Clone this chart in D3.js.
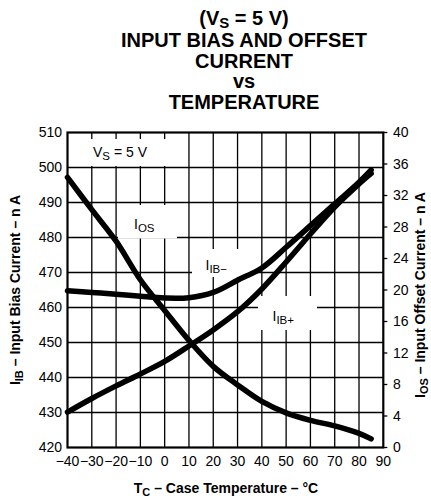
<!DOCTYPE html>
<html>
<head>
<meta charset="utf-8">
<script src="https://cdn.jsdelivr.net/npm/d3@7/dist/d3.min.js"></script>
<style>
  html, body { margin: 0; padding: 0; background: #fff; }
  svg { display: block; font-family: "Liberation Sans", Arial, Helvetica, sans-serif; }
</style>
</head>
<body>
<svg id="chart" width="431" height="500"></svg>
<script>
// ---- data ----
const temps = [-40, -30, -20, -10, 0, 10, 20, 30, 40, 50, 60, 70, 80, 85];
const iibPlus = [430.1, 434.0, 437.6, 441.0, 444.6, 449.0, 453.6, 458.8, 465.3, 473.0, 481.0, 488.7, 495.3, 498.3];
const iibMinus = [464.8, 464.3, 463.8, 463.2, 462.7, 462.8, 464.3, 467.8, 471.3, 477.2, 483.4, 489.6, 495.8, 499.3];
const ios = [34.3, 30.2, 26.2, 21.3, 17.4, 13.6, 10.3, 7.95, 5.85, 4.4, 3.45, 2.75, 1.8, 1.1];
const xTicks = [-40, -30, -20, -10, 0, 10, 20, 30, 40, 50, 60, 70, 80, 90];
const yLeftTicks = [420, 430, 440, 450, 460, 470, 480, 490, 500, 510];
const yRightTicks = [0, 4, 8, 12, 16, 20, 24, 28, 32, 36, 40];

// ---- layout ----
const L = 67.5, R = 383.3, T = 132.5, B = 447.5;
const svg = d3.select("#chart");
const x = d3.scaleLinear().domain([-40, 90]).range([L, R]);
const yL = d3.scaleLinear().domain([420, 510]).range([B, T]);
const yR = d3.scaleLinear().domain([0, 40]).range([B, T]);

// Title
const title = svg.append("g").attr("font-weight", "bold").attr("font-size", 20).attr("text-anchor", "middle");
const t1 = title.append("text").attr("x", 244).attr("y", 25);
t1.append("tspan").text("(V");
t1.append("tspan").attr("font-size", 15).attr("dy", 2.5).text("S");
t1.append("tspan").attr("dy", -2.5).text(" = 5 V)");
[["INPUT BIAS AND OFFSET", 47], ["CURRENT", 68], ["vs", 88], ["TEMPERATURE", 109]].forEach(([s, yy]) => {
  title.append("text").attr("x", 244).attr("y", yy).text(s);
});

// Grid
const grid = svg.append("g").attr("stroke", "#000").attr("stroke-width", 1.3);
grid.selectAll("line.v").data(xTicks.filter(d => d > -40 && d < 90)).join("line")
  .attr("class", "v")
  .attr("x1", d => x(d)).attr("x2", d => x(d)).attr("y1", T).attr("y2", B);
grid.selectAll("line.h").data(yLeftTicks.filter(d => d > 420 && d < 510)).join("line")
  .attr("class", "h")
  .attr("x1", L).attr("x2", R).attr("y1", d => yL(d)).attr("y2", d => yL(d));

// Label boxes (white) that break the grid
const boxes = [
  [68.5, 139, 180, 166],
  [118, 205, 177, 238.5],
  [192, 249, 250, 277],
  [258, 296, 317, 330]
];
svg.append("g").selectAll("rect").data(boxes).join("rect")
  .attr("x", d => d[0]).attr("y", d => d[1])
  .attr("width", d => d[2] - d[0]).attr("height", d => d[3] - d[1])
  .attr("fill", "#fff");

// Curves
const curve = d3.curveCatmullRom.alpha(0.5);
const lineL = d3.line().x((d, i) => x(temps[i])).y(d => yL(d)).curve(curve);
const lineR = d3.line().x((d, i) => x(temps[i])).y(d => yR(d)).curve(curve);
const curves = svg.append("g").attr("fill", "none").attr("stroke", "#000")
  .attr("stroke-width", 5.5).attr("stroke-linecap", "round").attr("stroke-linejoin", "round");
curves.append("path").attr("d", lineL(iibPlus));
curves.append("path").attr("d", lineL(iibMinus));
curves.append("path").attr("d", lineR(ios));

// Border
svg.append("rect").attr("x", L).attr("y", T).attr("width", R - L).attr("height", B - T)
  .attr("fill", "none").attr("stroke", "#000").attr("stroke-width", 2.2);

// Axes tick labels
const fmt = d => (d < 0 ? "\u2212" + Math.abs(d) : String(d));
const lab = svg.append("g").attr("font-size", 14).attr("fill", "#000");
lab.selectAll("text.x").data(xTicks).join("text").attr("class", "x")
  .attr("x", d => x(d)).attr("y", 466).attr("text-anchor", "middle").text(fmt);
lab.selectAll("text.yl").data(yLeftTicks).join("text").attr("class", "yl")
  .attr("x", 62).attr("y", d => yL(d)).attr("dy", "0.35em").attr("text-anchor", "end").text(d => d);
lab.selectAll("text.yr").data(yRightTicks).join("text").attr("class", "yr")
  .attr("x", 393).attr("y", d => yR(d)).attr("dy", "0.35em").attr("text-anchor", "start").text(d => d);
// right tick marks
svg.append("g").attr("stroke", "#000").attr("stroke-width", 1.3)
  .selectAll("line").data(yRightTicks).join("line")
  .attr("x1", R).attr("x2", R + 4).attr("y1", d => yR(d)).attr("y2", d => yR(d));

// In-plot labels
function subLabel(g, xx, yy, main, sub, size, subSize, shift) {
  const t = g.append("text").attr("x", xx).attr("y", yy).attr("font-size", size);
  t.append("tspan").text(main);
  t.append("tspan").attr("font-size", subSize).attr("dy", shift).text(sub);
  return t;
}
const inl = svg.append("g").attr("fill", "#000");
const vs = subLabel(inl, 93, 156.5, "V", "S", 14, 11.5, 3);
vs.append("tspan").attr("dy", -3).text(" = 5 V");
subLabel(inl, 134, 228.5, "I", "OS", 14, 11.5, 3);
subLabel(inl, 205.5, 269.5, "I", "IB\u2212", 14, 11.5, 3);
subLabel(inl, 272.5, 321, "I", "IB+", 14, 11.5, 3);

// Axis titles
const xt = svg.append("text").attr("x", 226).attr("y", 493).attr("text-anchor", "middle")
  .attr("font-weight", "bold").attr("font-size", 14);
xt.append("tspan").text("T");
xt.append("tspan").attr("font-size", 11).attr("dy", 3).text("C");
xt.append("tspan").attr("dy", -3).text(" \u2013 Case Temperature \u2013 \u00B0C");

const ylt = svg.append("text").attr("transform", "translate(20,290) rotate(-90)")
  .attr("text-anchor", "middle").attr("font-weight", "bold").attr("font-size", 14);
ylt.append("tspan").text("I");
ylt.append("tspan").attr("font-size", 11).attr("dy", 3).text("IB");
ylt.append("tspan").attr("dy", -3).text("  \u2013 Input Bias Current \u2013 n A");

const yrt = svg.append("text").attr("transform", "translate(425,295) rotate(-90)")
  .attr("text-anchor", "middle").attr("font-weight", "bold").attr("font-size", 14);
yrt.append("tspan").text("I");
yrt.append("tspan").attr("font-size", 11).attr("dy", 2.5).text("OS");
yrt.append("tspan").attr("dy", -2.5).text(" \u2013 Input Offset Current \u2013 n A");
</script>
</body>
</html>
